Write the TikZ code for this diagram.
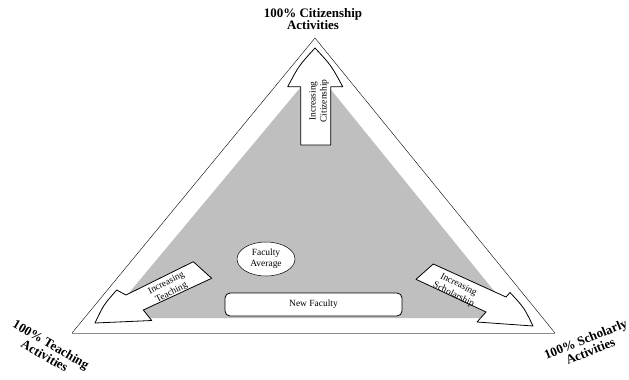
\documentclass[tikz,border=0pt]{standalone}
\usepackage{fontspec}
\setmainfont{Liberation Serif}
\usetikzlibrary{shapes.geometric}
\begin{document}
\begin{tikzpicture}[x=1bp,y=-1bp,
  arr/.style={draw=black,line width=0.8pt,fill=white,line join=round},
  lbl/.style={font=\fontsize{9.5}{11}\selectfont,align=center,inner sep=0pt},
  ttl/.style={font=\fontsize{13}{11}\selectfont\bfseries,align=center,inner sep=0pt}]
\useasboundingbox (0,0) rectangle (629,379);
\coordinate (A) at (315,38);
\coordinate (L) at (72,333);
\coordinate (R) at (555,333);
\fill[black!25] (108,318) -- (315,70) -- (516,318) -- cycle;
\draw[line width=0.4pt] (L) -- (A) -- (R);
\draw[black!45,line width=0.9pt] (L) -- (R);
% citizenship arrow
\draw[arr] (300.7,145) -- (300.7,86.7) -- (287.7,86.7) .. controls (299,65.5) .. (315,48)
  .. controls (331.3,65.5) .. (342.7,86.7) -- (330.7,86.7) -- (330.7,145) -- cycle;
% teaching arrow
\draw[arr] (211.7,278.3) -- (193.3,261.7) -- (126,295) -- (116.7,290)
  .. controls (103.5,305) .. (95,323) -- (151.7,320.5) -- (143.3,310) -- cycle;
% scholarship arrow
\draw[arr] (433.3,264) -- (416,279.3) -- (486,312) -- (477,322) -- (533,326)
  .. controls (524,307.5) .. (510,292.5) -- (506,297) -- cycle;
\node[lbl,rotate=90] (lc) at (319,101) {Increasing\\Citizenship};
\node[lbl,rotate=28] (lt) at (169,288) {Increasing\\Teaching};
\node[lbl,rotate=-27] (ls) at (456,290) {Increasing\\Scholarship};
\node[draw,ellipse,fill=white,line width=0.5pt,minimum width=58bp,minimum height=34bp,inner sep=0pt,
  font=\fontsize{9.5}{11}\selectfont,align=center] (fa) at (266,259) {Faculty\\Average};
\node[draw,rounded corners=5bp,fill=white,line width=0.8pt,minimum width=177bp,minimum height=23bp,
  inner sep=0pt,font=\fontsize{9.5}{11}\selectfont] (nf) at (313.5,304.5) {New Faculty};
\node[ttl] (tc) at (313,19) {100\% Citizenship\\Activities};
\node[ttl,rotate=-30] (tt) at (48,350) {100\% Teaching\\Activities};
\node[ttl,rotate=22] (ts) at (588,345) {100\% Scholarly\\Activities};
\end{tikzpicture}
\end{document}
